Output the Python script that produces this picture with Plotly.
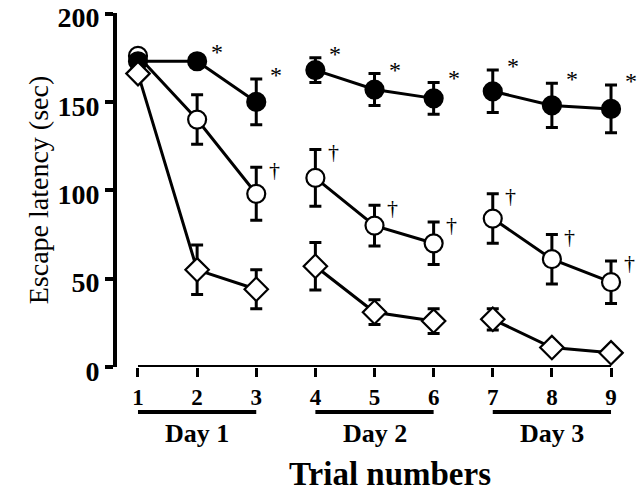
import plotly.graph_objects as go

trials = [1, 2, 3, 4, 5, 6, 7, 8, 9]
filled_mean = [173, 173, 150, 168, 157, 152, 156, 148, 146]
filled_err = [3, 3, 13, 7, 9, 9, 12, 12.5, 13.5]
open_mean = [176, 140, 98, 107, 80, 70, 84, 61, 48]
open_err = [2, 14, 15, 16, 11.5, 12, 14, 14, 12]
diamond_mean = [166, 55, 44, 57, 31, 26, 27, 11, 8]
diamond_err = [3, 14, 11, 13.5, 7, 7, 6, 2, 2]
star_trials = [2, 3, 4, 5, 6, 7, 8, 9]
dagger_trials = [3, 4, 5, 6, 7, 8, 9]
day_labels = ["Day 1", "Day 2", "Day 3"]
day_slices = [(0, 3), (3, 6), (6, 9)]
y_ticks = [0, 50, 100, 150, 200]

FONT = "Liberation Serif"
fig = go.Figure()

series = [
    (open_mean, open_err, "circle", "white"),
    (filled_mean, filled_err, "circle", "black"),
    (diamond_mean, diamond_err, "diamond", "white"),
]
for mean, err, sym, fill in series:
    for a, b in day_slices:
        fig.add_trace(go.Scatter(
            x=trials[a:b], y=mean[a:b],
            mode="lines+markers",
            line=dict(color="black", width=3),
            marker=dict(symbol=sym, size=18, color=fill,
                        line=dict(color="black", width=2.2)),
            error_y=dict(type="data", array=err[a:b], color="black",
                         thickness=3, width=6),
            cliponaxis=False, showlegend=False, hoverinfo="skip",
        ))

for t in star_trials:
    i = trials.index(t)
    fig.add_annotation(x=t, y=filled_mean[i] + filled_err[i], text="*",
                       showarrow=False, xshift=20, yshift=4, yanchor="middle",
                       font=dict(family=FONT, size=24, color="black"))
for t in dagger_trials:
    i = trials.index(t)
    fig.add_annotation(x=t, y=open_mean[i] + open_err[i], text="†",
                       showarrow=False, xshift=18, yshift=-2, yanchor="middle",
                       font=dict(family=FONT, size=22, color="black"))

# x axis baseline from trial 1 to 9
fig.add_shape(type="line", xref="x", yref="y", x0=trials[0], x1=trials[-1],
              y0=0, y1=0, line=dict(color="black", width=4))

for lab, (a, b) in zip(day_labels, day_slices):
    fig.add_shape(type="line", xref="x", yref="paper", x0=trials[a], x1=trials[b - 1],
                  y0=-0.127, y1=-0.127, line=dict(color="black", width=4))
    fig.add_annotation(x=trials[(a + b - 1) // 2], y=-0.189, xref="x", yref="paper",
                       text=lab, showarrow=False, yanchor="middle",
                       font=dict(family=FONT, size=26, color="black", weight="bold"))

fig.add_annotation(x=5.26, y=-0.302, xref="x", yref="paper", text="Trial numbers",
                   showarrow=False, yanchor="middle",
                   font=dict(family=FONT, size=33, color="black", weight="bold"))

fig.update_layout(
    width=640, height=495,
    margin=dict(l=117, r=10, t=13, b=128),
    paper_bgcolor="white", plot_bgcolor="white",
    xaxis=dict(range=[0.645, 9.321], tickvals=trials, ticks="outside",
               ticklen=9, tickwidth=3, tickcolor="black", showline=False,
               showgrid=False, zeroline=False, automargin=False,
               tickfont=dict(family=FONT, size=23, color="black", weight="bold")),
    yaxis=dict(range=[0, 200.3], tickvals=y_ticks, ticks="outside", ticklen=8,
               tickwidth=4, tickcolor="black", showline=True, linewidth=4,
               linecolor="black", showgrid=False, zeroline=False,
               ticklabeloverflow="allow", automargin="left", ticklabelshift=4,
               tickfont=dict(family=FONT, size=28, color="black", weight="bold"),
               title=dict(text="Escape latency (sec)", standoff=2,
                          font=dict(family=FONT, size=28, color="#000000"))),
)

fig.write_html("out.html", config={"displayModeBar": False},
               post_script="document.body.style.margin='0';")
